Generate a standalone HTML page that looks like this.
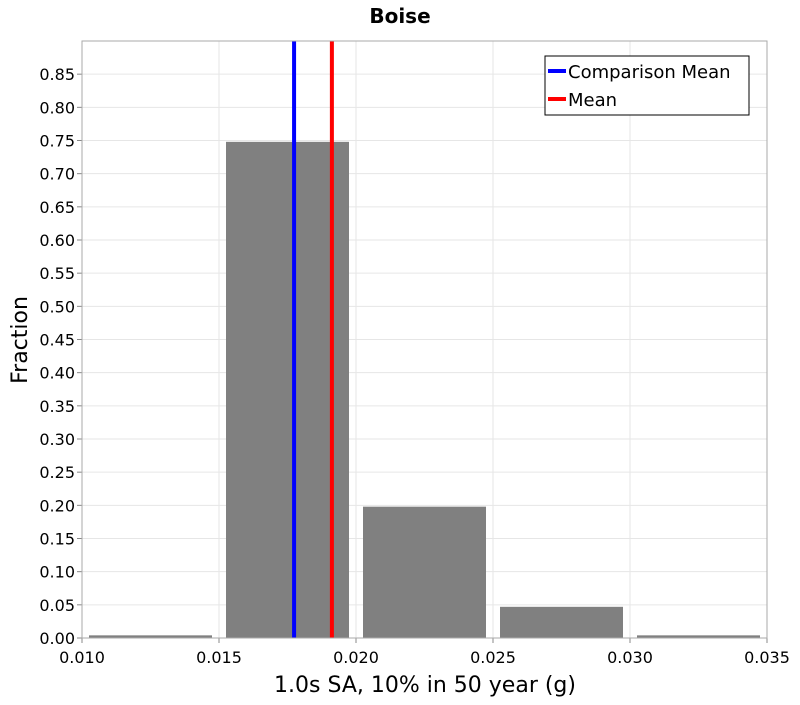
<!DOCTYPE html>
<html><head><meta charset="utf-8"><style>
body{margin:0;background:#fff;}
text{font-family:"DejaVu Sans","Liberation Sans",sans-serif;}
</style></head><body>
<svg id="chart" width="800" height="700">
<text x="400" y="23" text-anchor="middle" font-size="20" font-weight="bold">Boise</text>
<g id="grid"></g><g id="bars"></g><g id="lines"></g><g id="axes"></g>
<rect x="82" y="41" width="685" height="597" fill="none" stroke="#aaa"/>
<text x="425" y="692" text-anchor="middle" font-size="22">1.0s SA, 10% in 50 year (g)</text>
<text transform="translate(27,340) rotate(-90)" text-anchor="middle" font-size="22">Fraction</text>
<g>
<rect x="545" y="56" width="204" height="59" fill="#fff" stroke="#000"/>
<line x1="548" y1="71" x2="566" y2="71" stroke="#00f" stroke-width="4"/>
<text x="568" y="78" font-size="18">Comparison Mean</text>
<line x1="548" y1="99" x2="566" y2="99" stroke="#f00" stroke-width="4"/>
<text x="568" y="106" font-size="18">Mean</text>
</g>
</svg>
<script>
const binStarts=[0.010,0.015,0.020,0.025,0.030];
const fractions=[0.004,0.748,0.198,0.047,0.004];
const xTicks=[0.010,0.015,0.020,0.025,0.030,0.035];
const yTicks=[0,0.05,0.1,0.15,0.2,0.25,0.3,0.35,0.4,0.45,0.5,0.55,0.6,0.65,0.7,0.75,0.8,0.85];
const comparisonMean=0.01774;
const mean=0.01912;
const binWidth=0.005;
const NS="http://www.w3.org/2000/svg";
const X=v=>82+(v-0.010)/0.025*685;
const Y=v=>638-v/0.9*597;
function mk(tag,attrs,parent){const e=document.createElementNS(NS,tag);for(const k in attrs)e.setAttribute(k,attrs[k]);document.getElementById(parent).appendChild(e);return e;}
xTicks.forEach(t=>{
 const g=mk('line',{x1:X(t),x2:X(t),y1:41,y2:638,stroke:'#e6e6e6'},'grid');
 
 const tk=mk('line',{x1:X(t),x2:X(t),y1:638,y2:643,stroke:'#888'},'axes');
 
 const l=mk('text',{x:X(t),y:663,'text-anchor':'middle','font-size':'16'},'axes');l.textContent=t.toFixed(3);
 
});
yTicks.forEach(t=>{
 const g=mk('line',{x1:82,x2:767,y1:Y(t),y2:Y(t),stroke:'#e6e6e6'},'grid');
 
 const tk=mk('line',{x1:77,x2:82,y1:Y(t),y2:Y(t),stroke:'#888'},'axes');
 
 const l=mk('text',{x:75,y:Y(t)+6,'text-anchor':'end','font-size':'16'},'axes');l.textContent=t.toFixed(2);
 
});
binStarts.forEach((b,i)=>{
 const x0=X(b)+7,x1=X(b+binWidth)-7;
 const r=mk('rect',{x:x0,y:Y(fractions[i]),width:x1-x0,height:Y(0)-Y(fractions[i]),fill:'#808080'},'bars');
 
});
[[comparisonMean,'#00f','comparison-mean-line'],[mean,'#f00','mean-line']].forEach(([v,c,n])=>{
 const l=mk('line',{x1:X(v),x2:X(v),y1:41,y2:638,stroke:c,'stroke-width':4},'lines');
 
});
</script>
</body></html>
